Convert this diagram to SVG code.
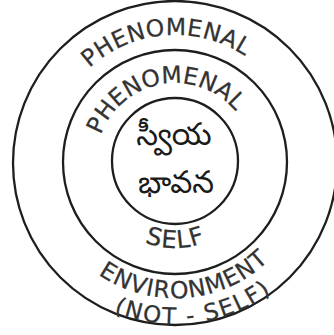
<svg xmlns="http://www.w3.org/2000/svg" width="334" height="335" viewBox="0 0 334 335">
<style>
.ring{fill:none;stroke:#1e1e1e;stroke-width:2.3}
.lbl{font-family:"DejaVu Sans","Liberation Sans",sans-serif;fill:#333;stroke:#333;stroke-width:0.25}
.tel{font-family:"Noto Sans Telugu","Lohit Telugu","Gurajada","Noto Sans",sans-serif;fill:#1a1a1a;font-size:31px;text-anchor:middle}
</style>
<defs>
<path id="pOuter" d="M60.4,107.3 A127,127 0 0 1 279.7,90.1"/>
<path id="pInner" d="M96,162 A79,79 0 0 1 249.2,135"/>
<path id="pSelf" d="M101.4,204.5 A84,84 0 0 0 248.6,204.5"/>
<path id="pEnv" d="M43.3,196.1 A136,136 0 0 0 310.4,175"/>
<path id="pNot" d="M20.1,209.4 A162,162 0 0 0 336.8,170.5"/>
</defs>
<rect width="334" height="335" fill="#fff"/>
<g id="outer-ring">
<circle class="ring" cx="175" cy="163" r="162"/>
<text class="lbl" font-size="23.5"><textPath href="#pOuter" startOffset="50%" text-anchor="middle" textLength="168" lengthAdjust="spacing">PHENOMENAL</textPath></text>
<text class="lbl" font-size="23.5"><textPath href="#pEnv" startOffset="50%" text-anchor="middle" textLength="185" lengthAdjust="spacing">ENVIRONMENT</textPath></text>
<text class="lbl" font-size="23"><textPath href="#pNot" startOffset="50%" text-anchor="middle" textLength="166" lengthAdjust="spacing">(NOT - SELF)</textPath></text>
</g>
<g id="middle-ring">
<circle class="ring" cx="175" cy="162" r="112"/>
<text class="lbl" font-size="23.5"><textPath href="#pInner" startOffset="50%" text-anchor="middle" textLength="165" lengthAdjust="spacing">PHENOMENAL</textPath></text>
<text class="lbl" font-size="24.5"><textPath href="#pSelf" startOffset="50%" text-anchor="middle" textLength="62" lengthAdjust="spacing">SELF</textPath></text>
</g>
<g id="inner-ring">
<circle class="ring" cx="175" cy="161" r="63"/>
<text class="tel" x="174" y="145">స్వీయ</text>
<text class="tel" x="176" y="193">భావన</text>
</g>
</svg>
